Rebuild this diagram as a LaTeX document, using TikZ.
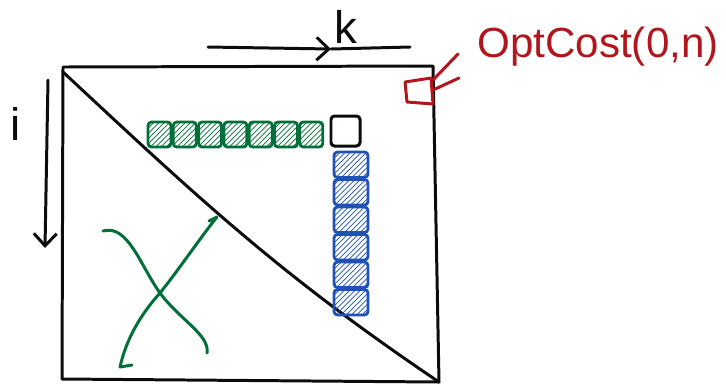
\documentclass[tikz,border=0pt]{standalone}
\usepackage{fontspec}
\setmainfont{Liberation Sans}
\usetikzlibrary{arrows.meta, patterns, positioning}
\definecolor{inkblack}{RGB}{12,12,12}
\definecolor{inkgreen}{RGB}{0,112,56}
\definecolor{inkblue}{RGB}{32,82,182}
\definecolor{inkred}{RGB}{178,22,28}
\tikzset{
  pen/.style={line width=1.7pt, color=inkblack, line cap=round, line join=round},
  penarrow/.style={pen, -{Straight Barb[length=7pt, width=13pt, line width=1.7pt]}},
  greenpen/.style={line width=1.7pt, color=inkgreen, line cap=round, line join=round},
  redpen/.style={line width=1.7pt, color=inkred, line cap=round, line join=round},
  greencell/.style={draw=inkgreen, line width=1.6pt, pattern=north east lines,
    pattern color=inkgreen, rounded corners=2pt},
  bluecell/.style={draw=inkblue, line width=1.6pt, pattern=north east lines,
    pattern color=inkblue, rounded corners=2pt},
  blackcell/.style={draw=inkblack, line width=1.7pt, rounded corners=2pt},
  penlabel/.style={font=\fontsize{26}{28}\selectfont, text=inkblack, inner sep=0pt}
}

\begin{document}
\begin{tikzpicture}[x=0.02cm, y=-0.02cm]
  \useasboundingbox (0,0) rectangle (726,387);

  % Matrix
  \coordinate (tl) at (63,67);
  \coordinate (tr) at (433,66);
  \coordinate (br) at (439,382);
  \coordinate (bl) at (62,379);
  \draw[pen] (tl) -- (tr) -- (br) -- (bl) -- cycle;
  \draw[pen] (63,72) to[out=-43, in=146] (br);

  % Index arrows
  \node[penlabel] (k) at (346,27) {k};
  \node[penlabel] (i) at (16,124) {i};
  \coordinate (kstart) at (208,47);
  \coordinate (kmid) at (331,49);
  \coordinate (kend) at (410,47);
  \draw[penarrow] (kstart) -- (kmid);
  \draw[pen] (kmid) -- (kend);
  \coordinate (istart) at (48,80);
  \coordinate (iend) at (45,248);
  \draw[penarrow] (istart) -- (iend);

  % Cells
  \foreach \x in {0,...,6}
    \draw[greencell] (148+\x*25.3,122) rectangle +(23,25);
  \draw[blackcell] (331,116) rectangle (360,146);
  \foreach \y in {0,...,5}
    \draw[bluecell] (334,152+\y*27.5) rectangle +(34,25.5);

  % Crossed curves
  \coordinate (xa) at (103,231);
  \coordinate (xm) at (160,293);
  \coordinate (xb) at (207,353);
  \coordinate (xc) at (132,365);
  \coordinate (xd) at (217,217);
  \draw[greenpen] (xa) .. controls (128,224) and (140,265) .. (xm)
    .. controls (180,320) and (210,335) .. (xb);
  \draw[greenpen] (xc) -- (120,367) .. controls (126,340) and (140,315) .. (xm)
    .. controls (180,268) and (200,238) .. (xd) -- (209,221);

  % Result cell
  \draw[redpen] (405,82) -- (431,78) -- (433,104) -- (407,102) -- cycle;
  \coordinate (rtip) at (433,80);
  \coordinate (rtip2) at (433,90);
  \node[font=\fontsize{24}{26}\selectfont, text=inkred] (opt) at (598,47) {OptCost(0,n)};
  \draw[redpen] (rtip) -- (458,54);
  \draw[redpen] (rtip2) -- (459,78);
\end{tikzpicture}
\end{document}
